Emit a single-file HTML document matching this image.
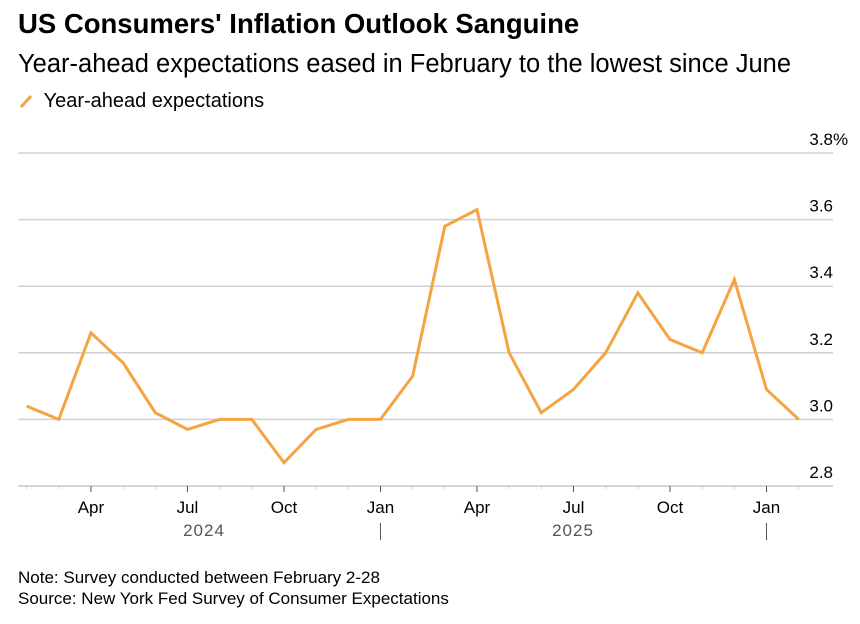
<!DOCTYPE html>
<html><head><meta charset="utf-8"><style>
body{margin:0;background:#fff;font-family:"Liberation Sans",sans-serif;}
#wrap{position:relative;width:860px;height:624px;overflow:hidden}
</style></head><body>
<div id="wrap">
<div style="position:absolute;left:18px;top:8px;font-size:27.5px;font-weight:bold;color:#000">US Consumers' Inflation Outlook Sanguine</div>
<div style="position:absolute;left:18px;top:50px;font-size:25.5px;color:#000">Year-ahead expectations eased in February to the lowest since June</div>
<div style="position:absolute;left:18px;top:90px;font-size:20px;color:#000">
<svg width="16" height="16" style="vertical-align:-2px"><line x1="3" y1="14" x2="13" y2="3" stroke="#f5a442" stroke-width="3"/></svg>
<span style="margin-left:4px">Year-ahead expectations</span></div>
<svg id="chart" width="860" height="624" style="position:absolute;left:0;top:0"></svg>
<div style="position:absolute;left:18px;top:568px;font-size:17px;color:#000">Note: Survey conducted between February 2-28</div>
<div style="position:absolute;left:18px;top:589px;font-size:17px;color:#000">Source: New York Fed Survey of Consumer Expectations</div>
</div>
<script>
const months=["Feb","Mar","Apr","May","Jun","Jul","Aug","Sep","Oct","Nov","Dec","Jan","Feb","Mar","Apr","May","Jun","Jul","Aug","Sep","Oct","Nov","Dec","Jan","Feb"];
const values=[3.04,3.00,3.26,3.17,3.02,2.97,3.00,3.00,2.87,2.97,3.00,3.00,3.13,3.58,3.63,3.20,3.02,3.09,3.20,3.38,3.24,3.20,3.42,3.09,3.00];
const yTicks=[2.8,3.0,3.2,3.4,3.6,3.8];
const yTickLabels=["2.8","3.0","3.2","3.4","3.6","3.8"];
const years=["2024","2025"];
const NS="http://www.w3.org/2000/svg";
const svg=document.getElementById('chart');
const x=i=>26.6+i*32.17;
const y=v=>486-(v-2.8)*(333/1.0);
function el(t,a){const e=document.createElementNS(NS,t);for(const k in a)e.setAttribute(k,a[k]);svg.appendChild(e);return e;}
yTicks.forEach((t,i)=>{
 if(i>0){const g=el('line',{x1:18,x2:833,y1:y(t),y2:y(t),stroke:'#d0d0d0','stroke-width':1.5});
 
 }
 const tx=el('text',{x:833,y:y(t)-8,'text-anchor':'end','font-size':17,fill:'#000','font-family':'Liberation Sans'});
 tx.textContent=yTickLabels[i];
 
 
 if(i===yTicks.length-1){const pc=el('text',{x:833,y:y(t)-8,'font-size':17,fill:'#000','font-family':'Liberation Sans'});
 pc.textContent='%';
 
 }
});
const ax=el('line',{x1:18,x2:833,y1:486,y2:486,stroke:'#c8c8c8','stroke-width':1.5});


months.forEach((m,i)=>{
 const major=(m==="Apr"||m==="Jul"||m==="Oct"||m==="Jan");
 const tk=el('line',{x1:x(i),x2:x(i),y1:486,y2:major?492:489,stroke:major?'#555':'#ccc','stroke-width':1});
 
 
 if(major){const t=el('text',{x:x(i),y:513,'text-anchor':'middle','font-size':17,fill:'#000','font-family':'Liberation Sans'});
 t.textContent=m;
 
 }
});
[[204,0],[573,1]].forEach(([px,k])=>{const t=el('text',{x:px,y:536,'text-anchor':'middle','font-size':17,fill:'#555','font-family':'Liberation Sans','letter-spacing':'1'});
t.textContent=years[k];

});
[11,23].forEach(i=>{const s=el('line',{x1:x(i),x2:x(i),y1:523,y2:540,stroke:'#555','stroke-width':1});

});
const p=el('polyline',{points:values.map((v,i)=>x(i)+','+y(v)).join(' '),fill:'none',stroke:'#f5a442','stroke-width':3,'stroke-linejoin':'miter'});


</script>
</body></html>
